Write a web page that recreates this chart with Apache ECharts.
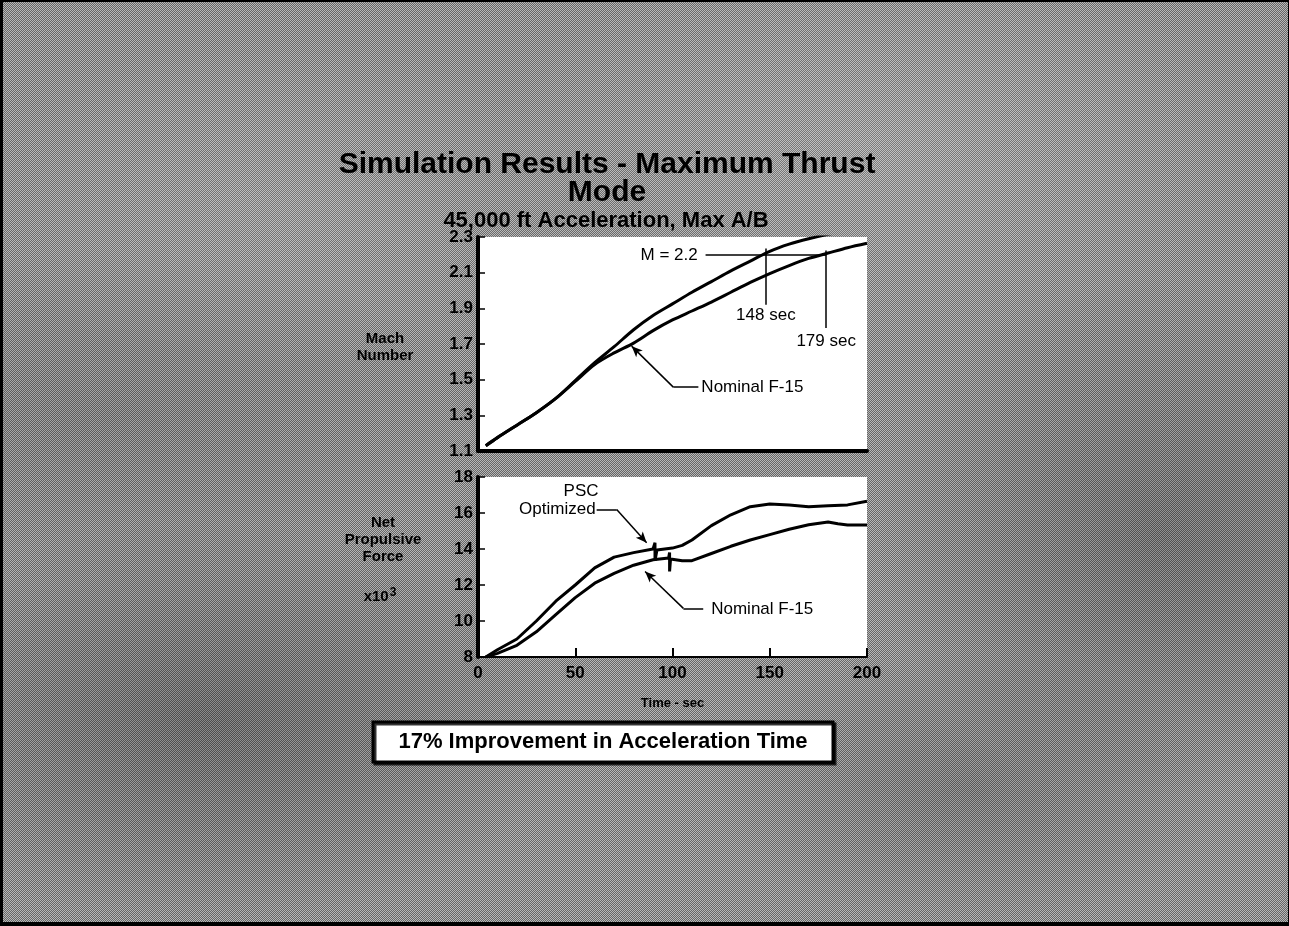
<!DOCTYPE html>
<html><head><meta charset="utf-8">
<script src="https://cdn.jsdelivr.net/npm/echarts@6/dist/echarts.min.js"></script>
<style>
html,body{margin:0;padding:0;width:1289px;height:926px;overflow:hidden;}
#bg{position:absolute;left:0;top:0;width:1289px;height:926px;
background:
 radial-gradient(ellipse 28% 22% at 16% 78%, rgba(0,0,0,0.26), rgba(0,0,0,0) 100%),
 radial-gradient(ellipse 22% 28% at 90% 58%, rgba(0,0,0,0.22), rgba(0,0,0,0) 100%),
 radial-gradient(ellipse 20% 15% at 75% 85%, rgba(0,0,0,0.15), rgba(0,0,0,0) 100%),
 radial-gradient(ellipse 30% 18% at 8% 45%, rgba(0,0,0,0.12), rgba(0,0,0,0) 100%),
 radial-gradient(ellipse 30% 22% at 68% 16%, rgba(255,255,255,0.14), rgba(255,255,255,0) 100%),
 radial-gradient(ellipse 25% 18% at 22% 22%, rgba(255,255,255,0.10), rgba(255,255,255,0) 100%),
 repeating-conic-gradient(#666666 0 25%, #b8b8b8 0 50%) 0 0/2px 2px;}
#chart{position:absolute;left:0;top:0;width:1289px;height:926px;}
#frame{position:absolute;left:0;top:0;width:1289px;height:926px;box-sizing:border-box;border-left:3px solid #000;border-top:2px solid #000;border-bottom:4px solid #000;border-right:1px solid #000;pointer-events:none;}
</style></head><body>
<div id="bg"></div><div id="chart"></div><div id="frame"></div>
<script>
// ---- data ----
const timeMach = [4,10,20,30,40,50,60,70,80,90,100,110,120,130,140,150,160,170,180,190,200];
const machPSC = [1.13,1.175,1.245,1.315,1.395,1.495,1.595,1.685,1.78,1.86,1.925,1.99,2.05,2.11,2.165,2.22,2.26,2.29,2.315,2.335,2.35];
const machNominal = [1.13,1.175,1.245,1.315,1.395,1.49,1.585,1.65,1.705,1.775,1.835,1.885,1.935,1.99,2.045,2.095,2.14,2.18,2.21,2.24,2.265];

const timeForcePSC = [4,10,20,30,40,50,60,70,80,90,91,91,92,100,105,110,120,130,140,150,160,170,180,190,200];
const forcePSC = [8.0,8.4,9.0,10.0,11.1,12.0,12.95,13.55,13.8,14.0,14.35,13.35,13.95,14.05,14.2,14.5,15.3,15.9,16.35,16.5,16.45,16.35,16.4,16.45,16.65];
const timeForceNominal = [4,10,20,30,40,50,60,70,80,90,98,98.5,98.5,99,105,110,120,130,140,150,160,170,180,185,190,200];
const forceNominal = [8.0,8.2,8.65,9.4,10.35,11.3,12.1,12.65,13.1,13.4,13.5,13.8,12.75,13.45,13.35,13.35,13.75,14.15,14.5,14.8,15.1,15.35,15.5,15.4,15.33,15.33];

const timeTicks = [0,50,100,150,200];
const machTicks = [1.1,1.3,1.5,1.7,1.9,2.1,2.3];
const forceTicks = [8,10,12,14,16,18];

const machTarget = 2.2;
const timeAtTargetPSC = 148;
const timeAtTargetNominal = 179;

const titleLines = ['Simulation Results - Maximum Thrust', 'Mode'];
const subtitle = '45,000 ft Acceleration, Max A/B';
const banner = '17% Improvement in Acceleration Time';

// ---- chart ----
const FONT = '"Liberation Sans", Arial, sans-serif';
const zip = (a, b) => a.map((v, i) => [v, b[i]]);
const chart = echarts.init(document.getElementById('chart'), null, {renderer: 'canvas'});

const tickLabel = {show: true, color: '#000', fontFamily: FONT, fontWeight: 'bold', fontSize: 17};
const annLabel = {show: true, color: '#000', fontFamily: FONT, fontSize: 17, formatter: p => p.name};
const thin = {color: '#000', width: 1.5, type: 'solid'};
const mp = (name, coord, position, distance) => ({name, coord, label: {position: position || 'inside', distance: distance || 0}});

function txt(text, x, y, size, extra) {
  return {
    type: 'text', x, y, silent: true,
    style: Object.assign({text, fill: '#000', font: 'bold ' + size + 'px ' + FONT,
      textAlign: 'center', textVerticalAlign: 'middle', align: 'center', verticalAlign: 'middle'}, extra || {})
  };
}

const option = {
  animation: false,
  backgroundColor: 'transparent',
  grid: [
    {left: 478, top: 237, width: 389, height: 214, show: true, backgroundColor: '#fff', borderWidth: 0},
    {left: 478, top: 477, width: 389, height: 180, show: true, backgroundColor: '#fff', borderWidth: 0}
  ],
  xAxis: [
    {gridIndex: 0, type: 'value', min: timeTicks[0], max: timeTicks[timeTicks.length-1], interval: 50,
     axisLine: {show: true, lineStyle: {color: '#000', width: 4}}, axisTick: {show: false},
     axisLabel: {show: false}, splitLine: {show: false}},
    {gridIndex: 1, type: 'value', min: timeTicks[0], max: timeTicks[timeTicks.length-1], interval: 50,
     axisLine: {show: true, lineStyle: {color: '#000', width: 2}},
     axisTick: {show: true, inside: true, length: 9, lineStyle: {color: '#000', width: 2}},
     axisLabel: Object.assign({margin: 8}, tickLabel), splitLine: {show: false},
     name: 'Time - sec', nameLocation: 'middle', nameGap: 40,
     nameTextStyle: {color: '#000', fontFamily: FONT, fontWeight: 'bold', fontSize: 13}}
  ],
  yAxis: [
    {gridIndex: 0, type: 'value', min: machTicks[0], max: machTicks[machTicks.length-1], interval: 0.2,
     axisLine: {show: true, lineStyle: {color: '#000', width: 4}},
     axisTick: {show: true, inside: true, length: 7, lineStyle: {color: '#000', width: 1.5}},
     axisLabel: Object.assign({margin: 5, formatter: v => Number(v).toFixed(1)}, tickLabel),
     splitLine: {show: false}},
    {gridIndex: 1, type: 'value', min: forceTicks[0], max: forceTicks[forceTicks.length-1], interval: 2,
     axisLine: {show: true, lineStyle: {color: '#000', width: 4}},
     axisTick: {show: true, inside: true, length: 7, lineStyle: {color: '#000', width: 1.5}},
     axisLabel: Object.assign({margin: 5}, tickLabel), splitLine: {show: false}}
  ],
  series: [
    {name: 'PSC Optimized Mach', type: 'line', xAxisIndex: 0, yAxisIndex: 0, data: zip(timeMach, machPSC),
     showSymbol: false, clip: true, smooth: 0.3, lineStyle: {color: '#000', width: 3}, z: 3,
     markLine: {silent: true, symbol: ['none', 'none'], symbolSize: [7, 11], label: {show: false}, lineStyle: thin,
       data: [
         [{coord: [117, machTarget]}, {coord: [timeAtTargetNominal, machTarget]}],
         [{coord: [timeAtTargetPSC, 2.235]}, {coord: [timeAtTargetPSC, 1.92]}],
         [{coord: [timeAtTargetNominal, 2.225]}, {coord: [timeAtTargetNominal, 1.79]}]
       ]},
     markPoint: {silent: true, symbol: 'circle', symbolSize: 0, itemStyle: {color: 'transparent'}, label: annLabel,
       data: [
         mp('M = ' + machTarget.toFixed(1), [114, machTarget], 'left', 2),
         mp(timeAtTargetPSC + ' sec', [timeAtTargetPSC, 1.863]),
         mp(timeAtTargetNominal + ' sec', [timeAtTargetNominal, 1.713])
       ]}},
    {name: 'Nominal F-15 Mach', type: 'line', xAxisIndex: 0, yAxisIndex: 0, data: zip(timeMach, machNominal),
     showSymbol: false, clip: true, smooth: 0.3, lineStyle: {color: '#000', width: 3}, z: 3,
     markLine: {silent: true, symbol: ['none', 'none'], symbolSize: [7, 11], label: {show: false}, lineStyle: thin,
       data: [
         [{coord: [113.3, 1.458]}, {coord: [100.4, 1.458]}],
         [{coord: [100.4, 1.458]}, {coord: [79, 1.688], symbol: 'arrow'}]
       ]},
     markPoint: {silent: true, symbol: 'circle', symbolSize: 0, itemStyle: {color: 'transparent'}, label: annLabel,
       data: [mp('Nominal F-15', [113.3, 1.455], 'right', 3)]}},
    {name: 'PSC Optimized Force', type: 'line', xAxisIndex: 1, yAxisIndex: 1, data: zip(timeForcePSC, forcePSC),
     showSymbol: false, clip: true, lineStyle: {color: '#000', width: 3}, z: 3,
     markLine: {silent: true, symbol: ['none', 'none'], symbolSize: [7, 11], label: {show: false}, lineStyle: thin,
       data: [
         [{coord: [61.0, 16.2]}, {coord: [71.3, 16.2]}],
         [{coord: [71.3, 16.2]}, {coord: [86.7, 14.35], symbol: 'arrow'}]
       ]},
     markPoint: {silent: true, symbol: 'circle', symbolSize: 0, itemStyle: {color: 'transparent'}, label: annLabel,
       data: [mp('PSC', [53, 17.2]), mp('Optimized', [61.0, 16.2], 'left', 1)]}},
    {name: 'Nominal F-15 Force', type: 'line', xAxisIndex: 1, yAxisIndex: 1, data: zip(timeForceNominal, forceNominal),
     showSymbol: false, clip: true, lineStyle: {color: '#000', width: 3}, z: 3,
     markLine: {silent: true, symbol: ['none', 'none'], symbolSize: [7, 11], label: {show: false}, lineStyle: thin,
       data: [
         [{coord: [115.8, 10.7]}, {coord: [105.6, 10.7]}],
         [{coord: [105.6, 10.7]}, {coord: [85.9, 12.75], symbol: 'arrow'}]
       ]},
     markPoint: {silent: true, symbol: 'circle', symbolSize: 0, itemStyle: {color: 'transparent'}, label: annLabel,
       data: [mp('Nominal F-15', [115.8, 10.65], 'right', 8)]}}
  ],
  graphic: [
    txt(titleLines[0], 607, 165, 30),
    txt(titleLines[1], 607, 193, 30),
    txt(subtitle, 606, 221, 22),
    txt('Mach\nNumber', 385, 347, 15, {lineHeight: 17}),
    txt('Net\nPropulsive\nForce', 383, 540, 15, {lineHeight: 17}),
    txt('{a|x10}{b|3}', 380, 597, 15, {rich: {
      a: {font: 'bold 15px ' + FONT, fill: '#000'},
      b: {font: 'bold 12px ' + FONT, fill: '#000', verticalAlign: 'top', padding: [0, 0, 8, 1]}
    }}),
    {type: 'rect', silent: true, shape: {x: 373, y: 722, width: 460, height: 40},
     style: {fill: '#fff', stroke: '#000', lineWidth: 3, shadowColor: 'rgba(0,0,0,0.8)', shadowOffsetX: 2, shadowOffsetY: 2, shadowBlur: 0}},
    txt(banner, 603, 742, 22)
  ]
};
chart.setOption(option);
</script></body></html>
